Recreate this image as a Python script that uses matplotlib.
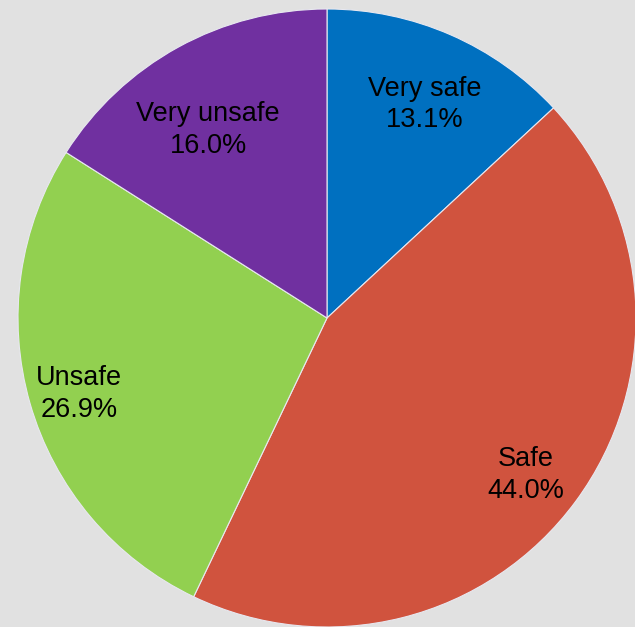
import matplotlib
matplotlib.use('Agg')
import matplotlib.pyplot as plt
import numpy as np

labels = ['Very safe', 'Safe', 'Unsafe', 'Very unsafe']
shares = [13.1, 44.0, 26.9, 16.0]
colors = ['#0070c0', '#d0533e', '#92d050', '#7030a0']

plt.rcParams['font.family'] = ['Liberation Sans', 'DejaVu Sans']

fig = plt.figure(figsize=(6.35, 6.27), dpi=100)
fig.patch.set_facecolor('#e1e1e1')
ax = fig.add_axes([0, 0, 1, 1])
ax.set_facecolor('#e1e1e1')

wedges, texts = ax.pie(shares, colors=colors, startangle=90, counterclock=False,
                       wedgeprops=dict(edgecolor='#e8e8f0', linewidth=0.8))

# label radii / small angle nudges roughly as Excel placed them
label_r = [0.76, 0.82, 0.84, 0.72]
label_da = [-1, -2.0, 1, 3.5]
for w, lab, val, r, da in zip(wedges, labels, shares, label_r, label_da):
    ang = np.deg2rad((w.theta1 + w.theta2) / 2 + da)
    ax.text(r * np.cos(ang), r * np.sin(ang), '{}\n{:.1f}%'.format(lab, val),
            ha='center', va='center', fontsize=19.5, color='black', linespacing=1.28)

# pie spills a little past the right and bottom edges
ax.set_aspect('auto')
ax.set_xlim(-327 / 309, (635 - 327) / 309)
ax.set_ylim(-(627 - 318) / 309, 318 / 309)
ax.axis('off')

fig.savefig('out.png', dpi=100, facecolor=fig.get_facecolor())
